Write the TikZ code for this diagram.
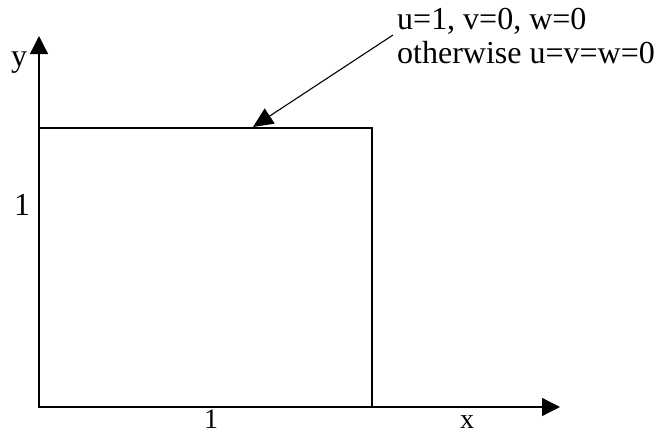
\documentclass[tikz,border=0pt]{standalone}
\usepackage{fontspec}
\setmainfont{Liberation Serif}
\usetikzlibrary{arrows.meta}
\begin{document}
\begin{tikzpicture}[
  x=1pt, y=-1pt,
  every node/.style={inner sep=0pt, font=\fontsize{32}{34}\selectfont},
  foot/.style={anchor=base, font=\fontsize{28}{30}\selectfont},
  axis/.style={-{Triangle[width=18pt,length=18pt]}, line width=1.3pt},
  pointer/.style={-{Triangle[width=18pt,length=20pt]}, line width=1.1pt},
  boxline/.style={line width=1.3pt}
]
\useasboundingbox (0,0) rectangle (665,434);
\coordinate (o) at (39,407);
\coordinate (xend) at (560,407);
\coordinate (yend) at (39,36);
\coordinate (lid) at (253,127);
\draw[boxline] (o) rectangle (372,128);
\draw[axis] (o) -- (xend);
\draw[axis] (o) -- (yend);
\node[anchor=base] (ylab) at (19,66) {y};
\node[foot] (xlab) at (467,428) {x};
\node[foot] (hlab) at (211,428) {1};
\node[anchor=base] (vlab) at (22,215) {1};
\node[anchor=north west, align=left] (bc) at (397,8) {u=1, v=0, w=0\\otherwise u=v=w=0};
\coordinate (bcfoot) at (393,35);
\draw[pointer] (bcfoot) -- (lid);
\end{tikzpicture}
\end{document}
